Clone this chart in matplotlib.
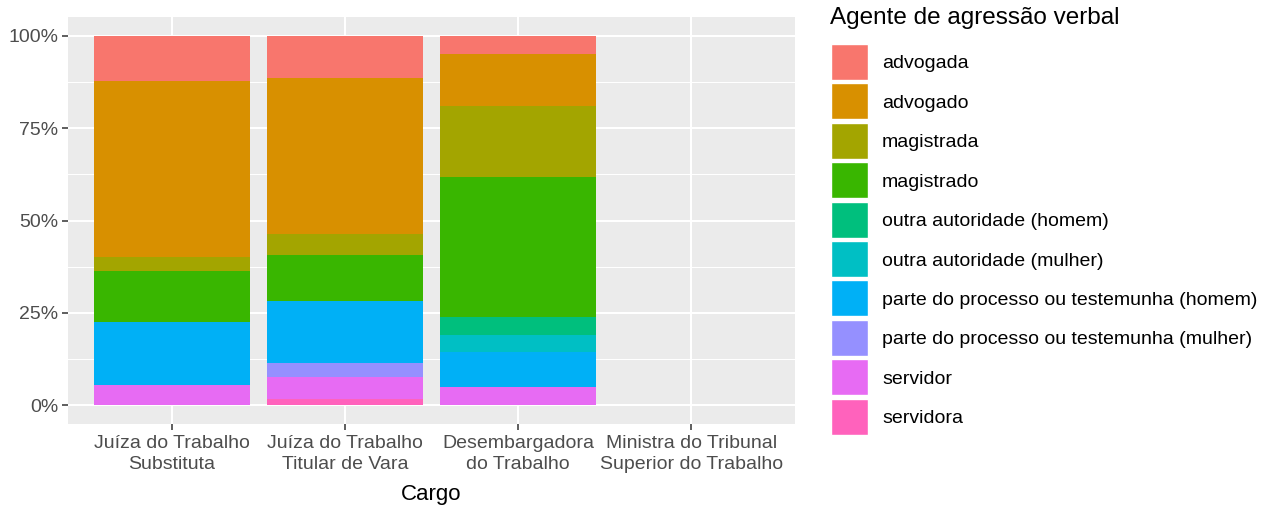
import matplotlib.pyplot as plt
import numpy as np
from matplotlib.patches import Rectangle

plt.rcParams['font.family'] = ['Liberation Sans', 'DejaVu Sans']

# cargos (eixo x)
cargos = ["Juíza do Trabalho\nSubstituta", "Juíza do Trabalho\nTitular de Vara",
          "Desembargadora\ndo Trabalho", "Ministra do Tribunal\nSuperior do Trabalho"]

# agentes (legenda), na ordem da legenda
agentes = ["advogada", "advogado", "magistrada", "magistrado",
           "outra autoridade (homem)", "outra autoridade (mulher)",
           "parte do processo ou testemunha (homem)",
           "parte do processo ou testemunha (mulher)", "servidor", "servidora"]
cores = ["#F8766D", "#D89000", "#A3A500", "#39B600", "#00BF7D",
         "#00BFC4", "#00B0F6", "#9590FF", "#E76BF3", "#FF62BC"]

# proporcoes (%) por cargo, mesma ordem dos agentes
substituta = [12.3, 47.7, 3.8, 13.7, 0, 0, 17.1, 0, 5.4, 0]
titular = [11.3, 42.3, 5.7, 12.5, 0, 0, 16.7, 4.0, 5.9, 1.6]
desembargadora = [4.76, 14.29, 19.05, 38.10, 4.76, 4.76, 9.52, 0, 4.76, 0]
ministra = [0, 0, 0, 0, 0, 0, 0, 0, 0, 0]

dados = np.array([substituta, titular, desembargadora, ministra]) / 100.0

W, H = 1269, 509
fig = plt.figure(figsize=(W / 100, H / 100), dpi=100)
ax = fig.add_axes([68 / W, (H - 423.5) / H, (795 - 68) / W, (423.5 - 17.5) / H])
ax.set_facecolor("#EBEBEB")

x = np.arange(1, len(cargos) + 1)
# empilha de baixo para cima: servidora embaixo, advogada no topo
bottom = np.zeros(len(cargos))
for i in range(len(agentes) - 1, -1, -1):
    ax.bar(x, dados[:, i], bottom=bottom, width=0.9, color=cores[i], zorder=3)
    bottom += dados[:, i]

ax.set_xlim(0.4, 4.6)
ax.set_ylim(-0.05, 1.05)
ax.set_yticks([0, 0.25, 0.5, 0.75, 1.0])
ax.set_yticklabels(["0%", "25%", "50%", "75%", "100%"])
ax.set_yticks([0.125, 0.375, 0.625, 0.875], minor=True)
ax.set_xticks(x)
ax.set_xticklabels(cargos, linespacing=1.3)

ax.grid(which="major", color="white", linewidth=1.5, zorder=0)
ax.grid(which="minor", axis="y", color="white", linewidth=0.75, zorder=0)
ax.set_axisbelow(True)
for s in ax.spines.values():
    s.set_visible(False)
ax.tick_params(axis="both", which="major", colors="#333333", length=4, width=1.1,
               labelsize=14, labelcolor="#4D4D4D")
ax.tick_params(axis="y", which="minor", length=0)
ax.tick_params(axis="x", pad=4)
ax.tick_params(axis="y", pad=3)
ax.set_xlabel("Cargo", fontsize=16, labelpad=8)

# legenda desenhada a mao (posicoes em pixels da figura)
fig.text(830 / W, 1 - 18 / H, "Agente de agressão verbal", fontsize=17.5,
         ha="left", va="center")
passo = 39.4
for i, (nome, cor) in enumerate(zip(agentes, cores)):
    yc = 62 + i * passo
    fig.add_artist(Rectangle((831 / W, 1 - (yc + 18) / H), 37 / W, 36 / H,
                             transform=fig.transFigure, facecolor=cor,
                             edgecolor="white", linewidth=1.0))
    fig.text(882 / W, 1 - yc / H, nome, fontsize=14, ha="left", va="center_baseline")

fig.savefig("out.png", dpi=100)
